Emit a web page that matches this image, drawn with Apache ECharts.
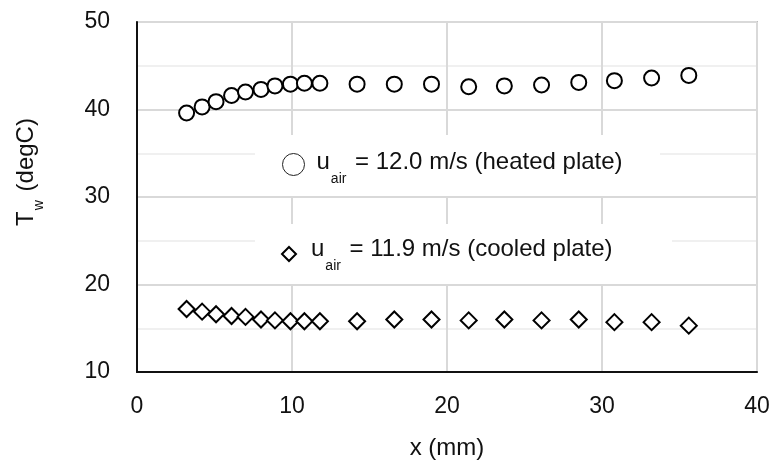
<!DOCTYPE html>
<html>
<head>
<meta charset="utf-8">
<script src="https://cdn.jsdelivr.net/npm/echarts@6/dist/echarts.min.js"></script>
<style>
html,body{margin:0;padding:0;background:#fff;}
#chart{width:780px;height:465px;}
</style>
</head>
<body>
<div id="chart"></div>
<script>
// Data
var xPos = [3.2, 4.2, 5.1, 6.1, 7.0, 8.0, 8.9, 9.9, 10.8, 11.8, 14.2, 16.6, 19.0, 21.4, 23.7, 26.1, 28.5, 30.8, 33.2, 35.6];
var heatedTw = [39.6, 40.3, 40.9, 41.6, 42.0, 42.3, 42.7, 42.9, 43.0, 43.0, 42.9, 42.9, 42.9, 42.6, 42.7, 42.8, 43.1, 43.3, 43.6, 43.9];
var cooledTw = [17.2, 16.9, 16.6, 16.4, 16.3, 16.0, 15.9, 15.8, 15.8, 15.8, 15.8, 16.0, 16.0, 15.9, 16.0, 15.9, 16.0, 15.7, 15.7, 15.3];
var xTicks = [0, 10, 20, 30, 40];
var yTicks = [10, 20, 30, 40, 50];
var heatedName = 'heated';
var cooledName = 'cooled';
var heatedLabel = ['u', 'air', ' = 12.0 m/s (heated plate)'];
var cooledLabel = ['u', 'air', ' = 11.9 m/s (cooled plate)'];

function pairs(xs, ys) {
  return xs.map(function (x, i) { return [x, ys[i]]; });
}

var FONT = '"Liberation Sans", Arial, sans-serif';
var TXT = '#111';
var richLegend = {
  u: { fontSize: 24, fontFamily: FONT, color: TXT, lineHeight: 48, verticalAlign: 'middle' },
  s: { fontSize: 14, fontFamily: FONT, color: TXT, lineHeight: 48, verticalAlign: 'bottom', padding: [0, 2, 0, 1] },
  t: { fontSize: 24, fontFamily: FONT, color: TXT, lineHeight: 48, verticalAlign: 'middle' }
};

var chart = echarts.init(document.getElementById('chart'));
chart.setOption({
  animation: false,
  backgroundColor: '#fff',
  grid: {
    left: 137, right: 23, top: 22, bottom: 92,
    show: true, borderColor: '#8c8c8c', borderWidth: 1.5, backgroundColor: 'transparent'
  },
  // white label boxes that hide the gridlines behind the two legend entries
  graphic: [
    { type: 'rect', z: 1, silent: true, shape: { x: 255, y: 135, width: 405, height: 61 }, style: { fill: '#fff' } },
    { type: 'rect', z: 1, silent: true, shape: { x: 255, y: 224, width: 417, height: 60 }, style: { fill: '#fff' } }
  ],
  xAxis: {
    type: 'value', min: xTicks[0], max: xTicks[xTicks.length - 1], interval: 10, z: 0,
    name: 'x (mm)', nameLocation: 'middle', nameGap: 64,
    nameTextStyle: { fontSize: 24, fontFamily: FONT, color: TXT },
    axisLine: { show: true, onZero: false, lineStyle: { color: '#111', width: 2 } },
    axisTick: { show: false },
    axisLabel: { fontSize: 23, fontFamily: FONT, color: TXT, margin: 23 },
    splitLine: { show: true, lineStyle: { color: '#d9d9d9', width: 2 } }
  },
  yAxis: {
    type: 'value', min: yTicks[0], max: yTicks[yTicks.length - 1], interval: 10, z: 0,
    name: '{T|T}{w|w}{T| (degC)}', nameLocation: 'middle', nameGap: 91, nameRotate: 90,
    nameTextStyle: {
      padding: [0, 0, 0, 50],
      rich: {
        T: { fontSize: 24, fontFamily: FONT, color: TXT, lineHeight: 40, verticalAlign: 'middle' },
        w: { fontSize: 14, fontFamily: FONT, color: TXT, lineHeight: 40, verticalAlign: 'bottom', padding: [0, 2, 0, 1] }
      }
    },
    axisLine: { show: true, onZero: false, lineStyle: { color: '#111', width: 2 } },
    axisTick: { show: false },
    axisLabel: { fontSize: 23, fontFamily: FONT, color: TXT, margin: 27 },
    splitLine: { show: true, lineStyle: { color: '#d9d9d9', width: 2 } },
    minorTick: { show: false, splitNumber: 2 },
    minorSplitLine: { show: true, lineStyle: { color: '#f0f0f0', width: 2 } }
  },
  legend: [
    {
      data: [{ name: heatedName, icon: 'circle', itemStyle: { color: '#fff', borderColor: '#222', borderWidth: 1 } }],
      left: 255, top: 147,
      padding: [3, 37, 7, 27],
      itemWidth: 22, itemHeight: 22, itemGap: 0,
      selectedMode: false,
      formatter: function () { return '{u|' + heatedLabel[0] + '}{s|' + heatedLabel[1] + '}{t|' + heatedLabel[2] + '}'; },
      textStyle: { rich: richLegend, padding: [0, 0, 5, 7] }
    },
    {
      data: [{ name: cooledName, icon: 'diamond', itemStyle: { color: '#fff', borderColor: '#000', borderWidth: 2 } }],
      left: 255, top: 236,
      padding: [1, 50, 3, 26],
      itemWidth: 14, itemHeight: 14, itemGap: 0,
      selectedMode: false,
      formatter: function () { return '{u|' + cooledLabel[0] + '}{s|' + cooledLabel[1] + '}{t|' + cooledLabel[2] + '}'; },
      textStyle: { rich: richLegend, padding: [0, 0, 10, 10] }
    }
  ],
  series: [
    {
      name: heatedName, type: 'scatter', data: pairs(xPos, heatedTw),
      symbol: 'circle', symbolSize: 15,
      itemStyle: { color: '#fff', borderColor: '#000', borderWidth: 2, opacity: 1 }
    },
    {
      name: cooledName, type: 'scatter', data: pairs(xPos, cooledTw),
      symbol: 'diamond', symbolSize: 16,
      itemStyle: { color: '#fff', borderColor: '#000', borderWidth: 2, opacity: 1 }
    }
  ]
});
</script>
</body>
</html>
